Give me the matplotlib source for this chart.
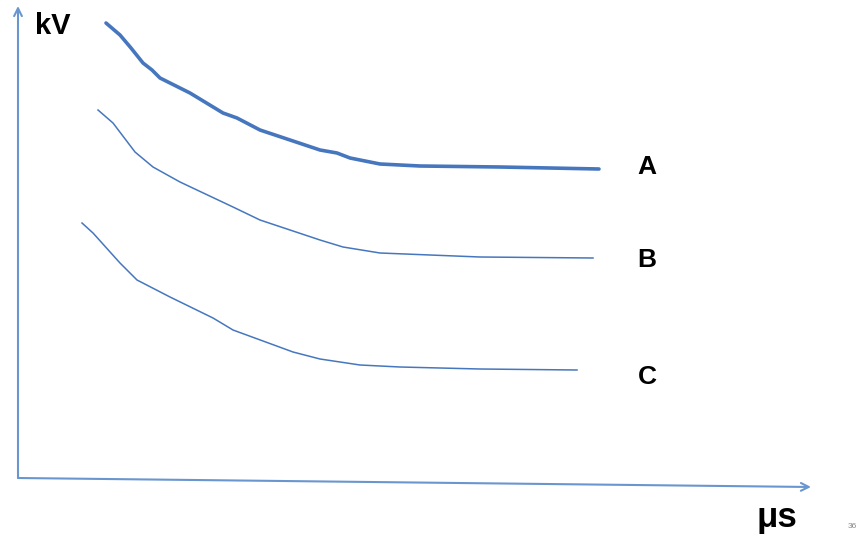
import matplotlib
matplotlib.use('Agg')
import matplotlib.pyplot as plt

# time (arbitrary units) and voltage (arbitrary units)
tempo_a = [88, 95, 102, 113, 125, 134, 142, 172, 205, 219, 242, 272, 302, 319, 332, 362, 402, 482, 581]
tensao_a = [455, 449, 443, 430, 415, 408, 400, 385, 365, 360, 348, 338, 328, 325, 320, 314, 312, 311, 309]

tempo_b = [80, 95, 117, 135, 162, 215, 242, 302, 325, 362, 462, 575]
tensao_b = [368, 355, 326, 311, 296, 271, 258, 238, 231, 225, 221, 220]

tempo_c = [64, 75, 102, 119, 152, 195, 215, 275, 302, 342, 382, 462, 559]
tensao_c = [255, 245, 215, 198, 181, 160, 148, 126, 119, 113, 111, 109, 108]

rotulos = ['A', 'B', 'C']
rotulos_y = [311, 218, 101]

cor_curva = '#4677BE'
cor_eixo = '#6A96CF'

fig = plt.figure(figsize=(8.63, 5.35), dpi=100)
ax = fig.add_axes([0, 0, 1, 1])
ax.set_xlim(-18, 845)
ax.set_ylim(-57, 478)
ax.axis('off')

# eixos com setas
ax.annotate('', xy=(0, 472), xytext=(0, 0),
            arrowprops=dict(arrowstyle='->', color=cor_eixo, lw=1.5,
                            mutation_scale=14, shrinkA=0, shrinkB=0))
ax.annotate('', xy=(793, -9), xytext=(0, 0),
            arrowprops=dict(arrowstyle='->', color=cor_eixo, lw=1.5,
                            mutation_scale=14, shrinkA=0, shrinkB=0))

# curvas
ax.plot(tempo_a, tensao_a, color=cor_curva, lw=2.6, solid_capstyle='round',
        solid_joinstyle='round')
ax.plot(tempo_b, tensao_b, color=cor_curva, lw=1.1, solid_joinstyle='round')
ax.plot(tempo_c, tensao_c, color=cor_curva, lw=1.1, solid_joinstyle='round')

for rotulo, y in zip(rotulos, rotulos_y):
    ax.text(629, y, rotulo, fontsize=19, fontweight='bold',
            family='Liberation Sans', va='center', ha='center')

ax.text(17, 452, 'kV', fontsize=21, fontweight='bold', family='Liberation Sans',
        va='center', ha='left')
ax.text(738, -40, 'μs', fontsize=25, fontweight='bold', family='Liberation Sans',
        va='center', ha='left')
ax.text(830, -49, '36', fontsize=6, color='#888888', family='Liberation Sans',
        va='center', ha='left')

fig.savefig('out.png', dpi=100)
